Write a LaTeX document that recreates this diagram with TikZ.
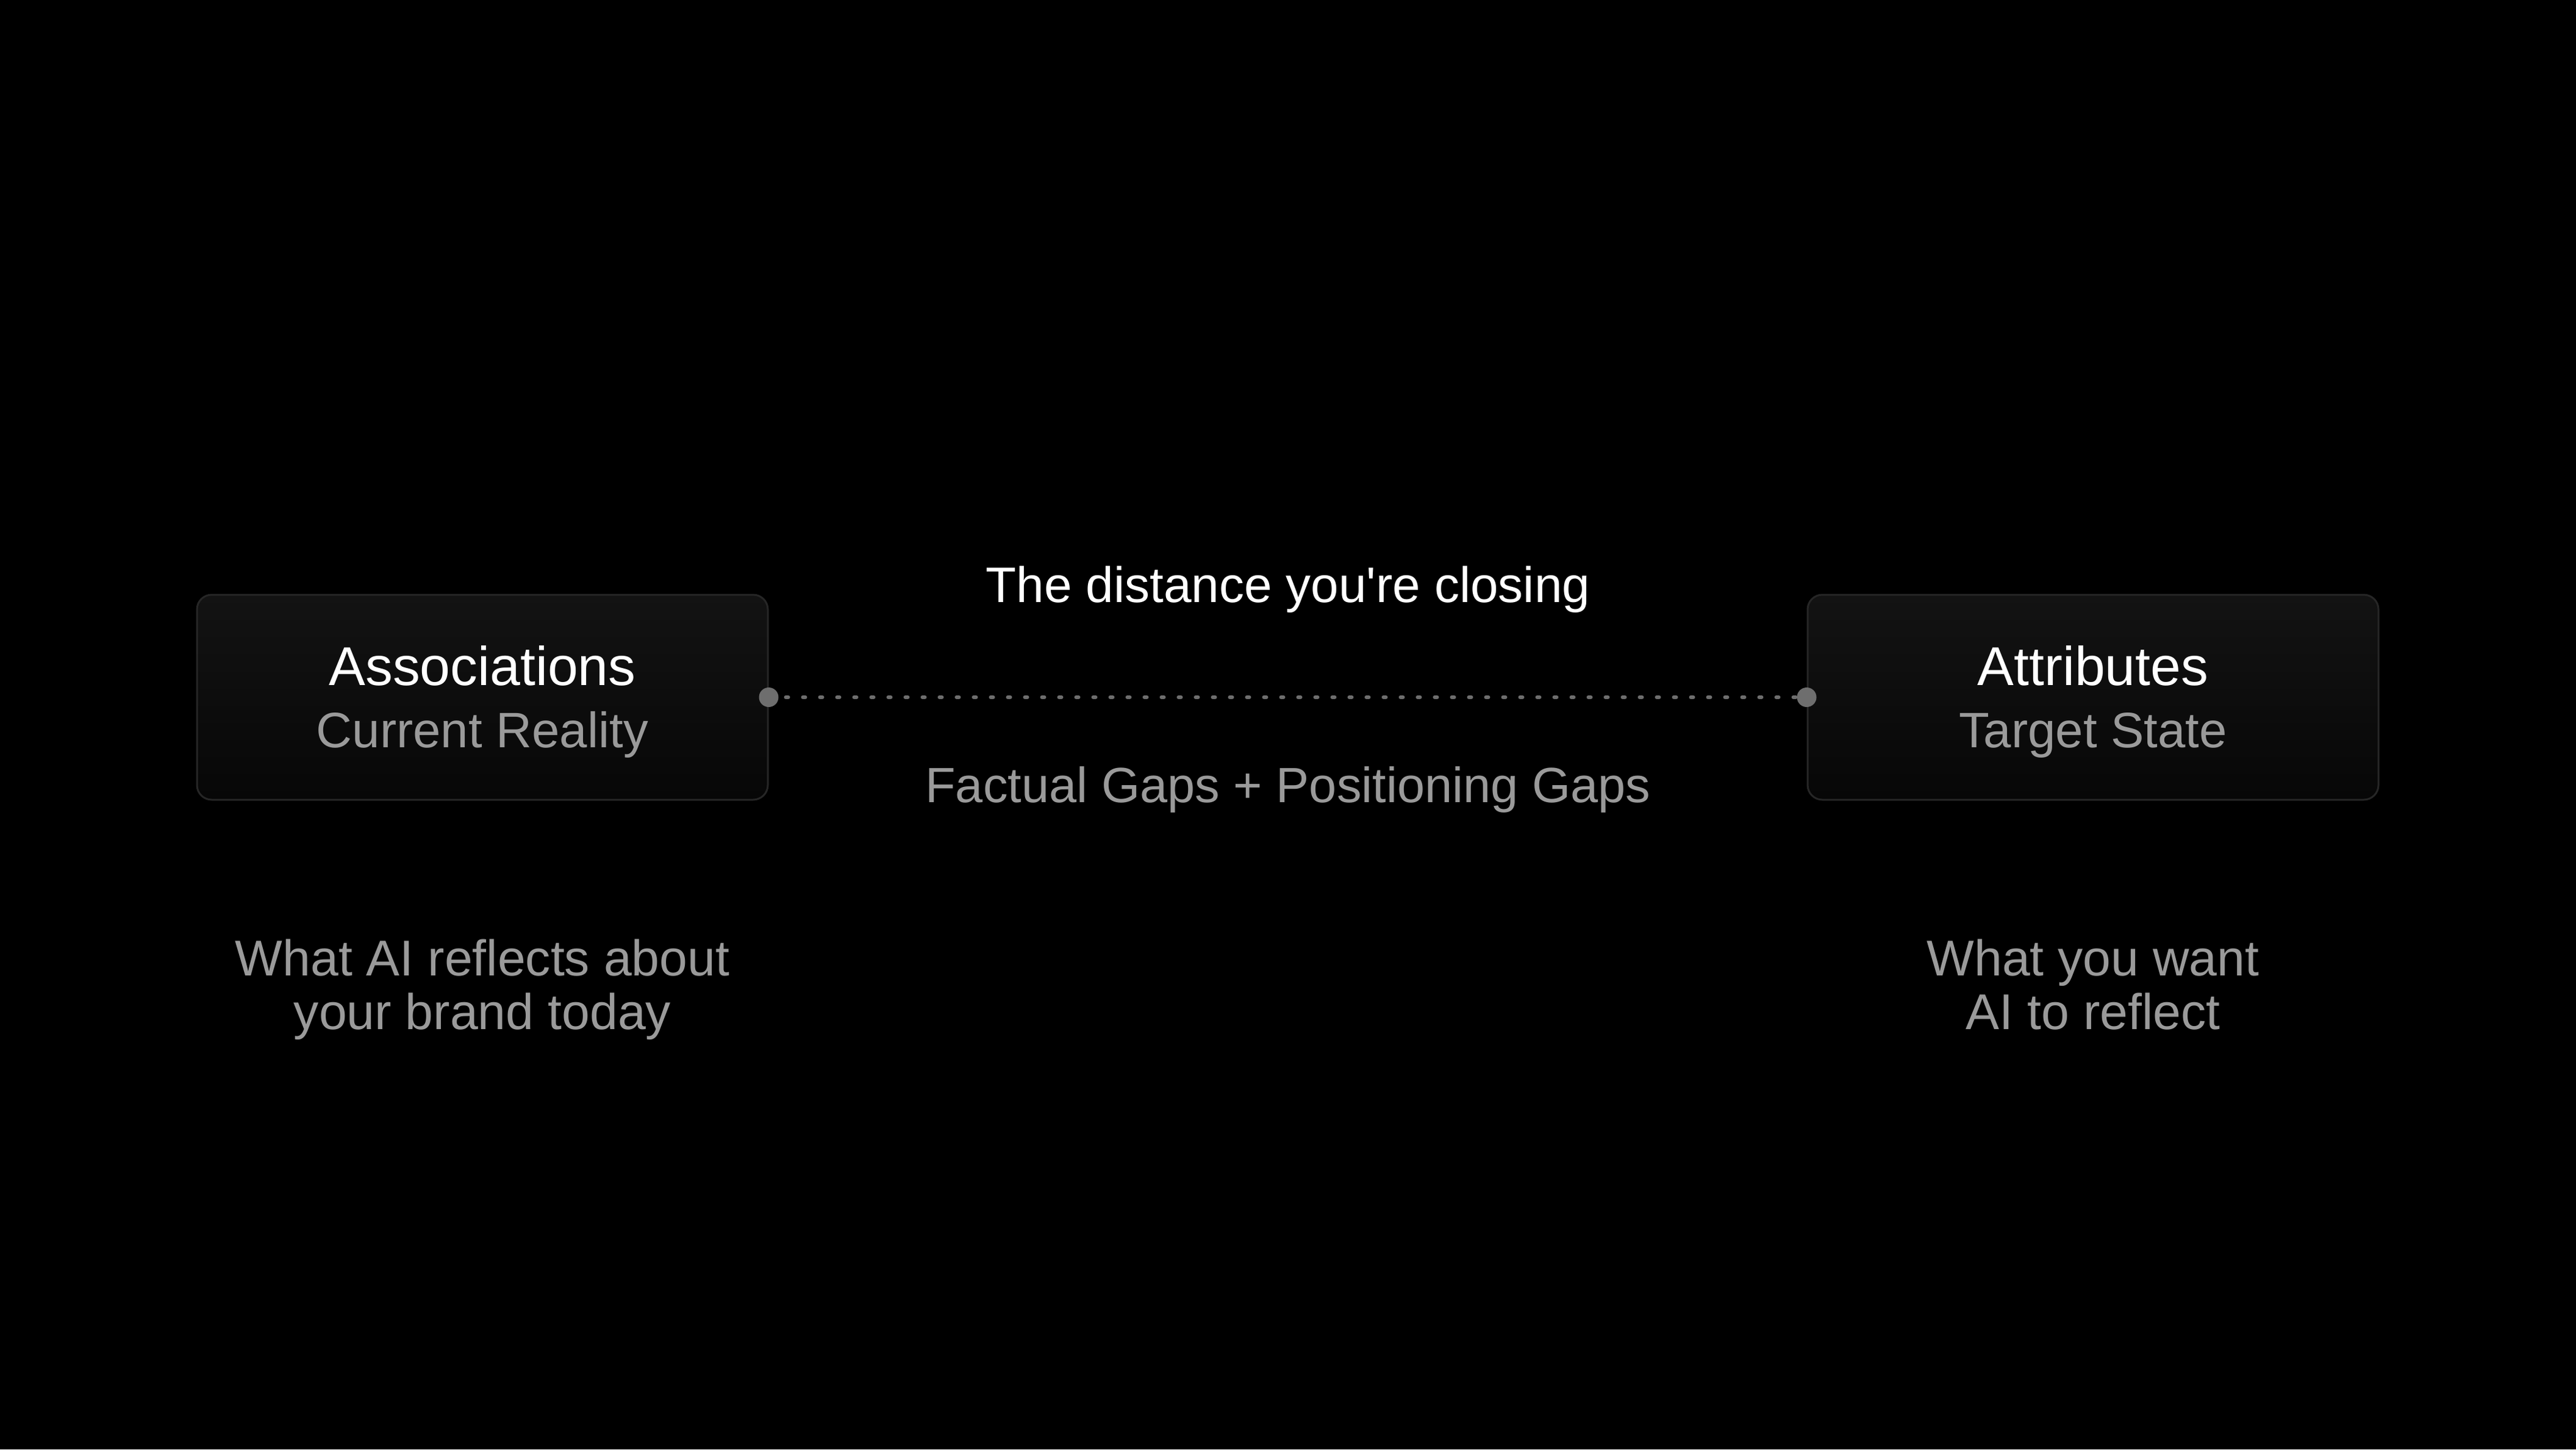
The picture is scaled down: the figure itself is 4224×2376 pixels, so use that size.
\documentclass[tikz,border=0pt]{standalone}
\usepackage{fontspec}
\setmainfont{Liberation Sans}
\newfontfamily\plainsans{Liberation Sans}
\usetikzlibrary{positioning}
\definecolor{dotgray}{HTML}{6E6E6E}
\definecolor{softgray}{HTML}{9A9A9A}
\definecolor{boxedge}{HTML}{262626}
\definecolor{boxtop}{HTML}{131313}
\definecolor{boxbottom}{HTML}{070707}
\tikzset{
  statebox/.style={draw=boxedge, line width=0.75pt, rounded corners=6pt, top color=boxtop, bottom color=boxbottom, minimum width=234pt, minimum height=84pt, inner sep=0pt},
  headtext/.style={anchor=base, inner sep=0pt, text=white, font=\fontsize{22.4}{26}\selectfont},
  subtext/.style={anchor=base, inner sep=0pt, text=softgray, font=\fontsize{20.4}{24}\selectfont},
  notetext/.style={anchor=base, inner sep=0pt, text=softgray, align=center, font=\fontsize{20.6}{22}\selectfont},
  enddot/.style={circle, fill=dotgray, minimum size=8pt, inner sep=0pt},
  gapline/.style={draw=dotgray, line width=1.5pt, line cap=round, dash pattern=on 1pt off 6pt}
}

\begin{document}
\begin{tikzpicture}[x=0.25pt,y=0.25pt,yscale=-1,xscale=1]
%Background
\fill [black] (0,0) rectangle (4224,2376);
\useasboundingbox (0,0) rectangle (4224,2376);

%Shape: Boxes
\node [statebox] (assoc) at (791,1143) {};
\node [statebox] (attrib) at (3432,1143) {};

%Straight Lines: gap
\draw [gapline] (assoc.east) -- (attrib.west);
\node [enddot] (dotl) at (assoc.east) {};
\node [enddot] (dotr) at (attrib.west) {};

% Text Node
\node [headtext] (assochead) at (791,1123) {Associations};
% Text Node
\node [subtext] (assocsub) at (791,1225) {Current Reality};
% Text Node
\node [headtext] (attribhead) at (3432,1123) {Attributes};
% Text Node
\node [subtext] (attribsub) at (3432,1225) {Target State};
% Text Node
\node [headtext, font=\plainsans\fontsize{20.5}{24}\selectfont] (distance) at (2112,987) {The distance you're closing};
% Text Node
\node [subtext, font=\fontsize{20.3}{24}\selectfont] (gaps) at (2112,1315) {Factual Gaps + Positioning Gaps};
% Text Node
\node [notetext] (assocnote) at (791,1687) {What AI reflects about\\your brand today};
% Text Node
\node [notetext] (attribnote) at (3432,1687) {What you want\\AI to reflect};

\end{tikzpicture}
\end{document}
